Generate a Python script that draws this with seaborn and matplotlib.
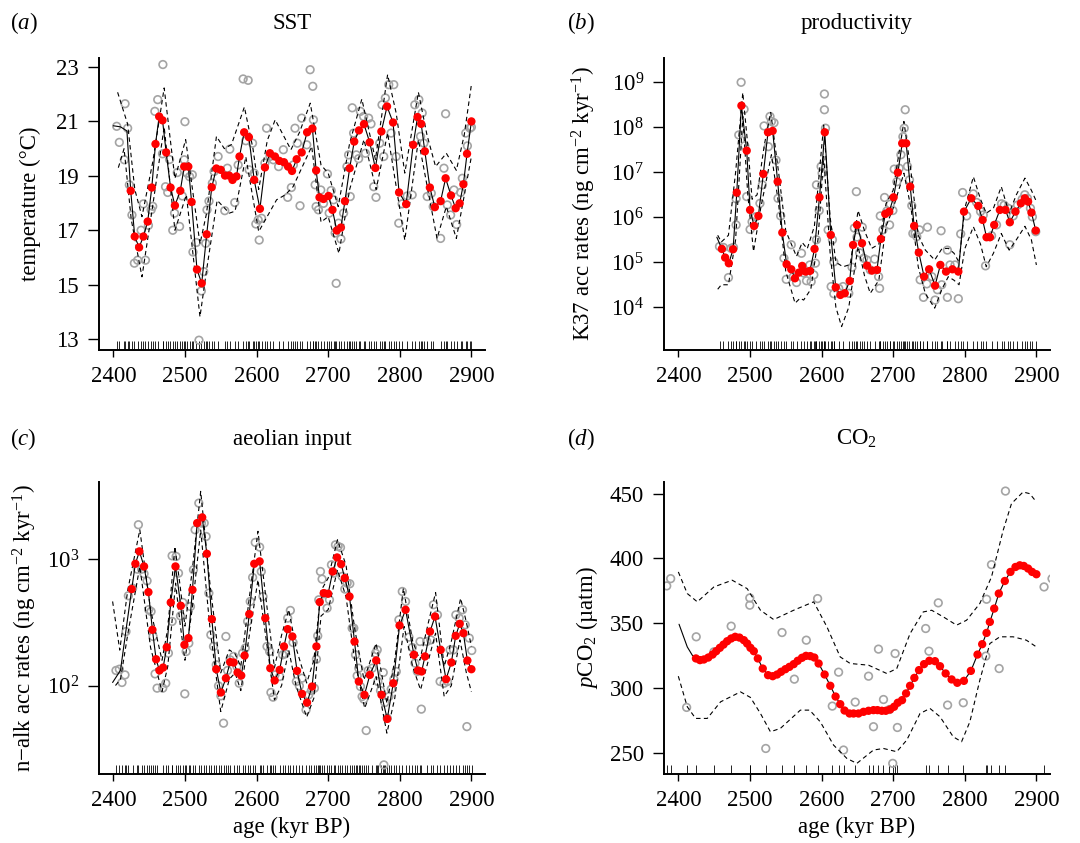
import numpy as np
import pandas as pd
import matplotlib
matplotlib.use("Agg")
import matplotlib.pyplot as plt
from matplotlib.ticker import NullLocator
import seaborn as sns

# ---------------- common ----------------
x_ticks = [2400, 2500, 2600, 2700, 2800, 2900]
x_tick_labels = ["2400", "2500", "2600", "2700", "2800", "2900"]

# ---------------- (a) SST ----------------
sst_grey_x = [2404.7, 2408.4, 2416.4, 2415.4, 2420, 2422.4, 2426, 2429.4, 2434, 2438.8,
              2442, 2444.9, 2449, 2452.8, 2455, 2458, 2462, 2469.2, 2468.7, 2472.9,
              2476, 2478.5, 2483, 2485.5, 2489.3, 2492.5, 2496.3, 2499, 2500, 2502.8,
              2506.5, 2510.3, 2511.2, 2515.9, 2519.6, 2522.9, 2526.2, 2529, 2530.8, 2533.6,
              2538.3, 2540.7, 2546.3, 2555.6, 2559.3, 2562.6, 2569.6, 2574.3, 2581.3, 2588.3,
              2585, 2589.7, 2594.4, 2596.7, 2599, 2602.3, 2603.7, 2607, 2611.7, 2614,
              2618.7, 2623.4, 2630.8, 2637.4, 2643.5, 2648.6, 2651.4, 2653.7, 2657, 2660.7,
              2663, 2670.1, 2674.8, 2678.5, 2679.4, 2681.8, 2683.2, 2686.4, 2689.7, 2693.5,
              2699, 2701.4, 2704.2, 2707.5, 2709.8, 2711.2, 2714.5, 2717.8, 2721.5, 2726.2,
              2728.5, 2730.8, 2733.6, 2735.5, 2739.3, 2742.5, 2745, 2749.5, 2752, 2756.5,
              2759.8, 2763.6, 2766.8, 2772, 2775.2, 2777.6, 2779.9, 2784.6, 2791.6, 2787.9,
              2794.9, 2798.6, 2803.3, 2810.3, 2817.3, 2821, 2826.6, 2829, 2831.3, 2833.6,
              2838.3, 2844, 2846.7, 2857, 2864, 2861.7, 2866.4, 2871, 2875.7, 2879.4,
              2885, 2887.4, 2892.1, 2894.4, 2898.1, 2900]
sst_grey_y = [20.82, 20.23, 21.65, 19.59, 20.75, 18.67, 17.56, 15.79, 15.9, 17.0,
              17.97, 15.9, 17.18, 17.75, 17.88, 21.37, 21.8, 23.09, 19.81, 18.6,
              18.39, 19.6, 17.0, 17.63, 19.12, 17.14, 18.26, 19.59, 20.99, 19.1,
              18.97, 19.04, 16.2, 16.55, 12.96, 14.77, 15.48, 16.52, 17.75, 18.07,
              18.73, 19.16, 19.71, 17.72, 19.28, 19.98, 18.02, 19.4, 22.56, 22.51,
              20.29, 19.22, 20.2, 19.1, 17.23, 17.38, 16.64, 17.44, 19.47, 20.75,
              19.71, 19.59, 19.34, 19.96, 18.21, 18.57, 19.4, 20.75, 20.2, 17.9,
              21.12, 20.14, 22.9, 22.29, 21.06, 18.67, 17.87, 17.75, 18.48, 17.99,
              19.07, 17.63, 18.46, 18.12, 16.9, 15.05, 17.26, 16.68, 17.63, 19.34,
              19.77, 18.24, 21.5, 20.57, 19.77, 19.63, 21.37, 21.18, 19.83, 21.12,
              20.91, 18.6, 18.21, 20.2, 21.61, 19.71, 21.86, 22.35, 22.35, 20.57,
              19.71, 17.26, 17.97, 18.26, 18.3, 21.61, 21.8, 20.45, 21.31, 20.2,
              18.24, 18.36, 17.87, 16.7, 21.28, 19.28, 17.93, 17.56, 18.48, 17.21,
              18.39, 18.91, 20.57, 20.1, 20.75, 20.79]
sst_red_x = [2424.3, 2429.9, 2436.0, 2442.0, 2448.0, 2453.7, 2458.9, 2464.0, 2468.7, 2473.8,
             2479.9, 2486.0, 2493.5, 2499.0, 2504.7, 2509.3, 2516.8, 2523.4, 2530.4, 2537.4,
             2543.9, 2550.0, 2556.0, 2561.7, 2566.4, 2572.0, 2576.2, 2582.7, 2589.3, 2596.7,
             2604.7, 2611.7, 2618.7, 2625.7, 2631.8, 2638.3, 2644.0, 2649.5, 2656.0, 2663.0,
             2670.6, 2678.0, 2683.2, 2687.9, 2693.5, 2700.5, 2706.0, 2712.0, 2717.8, 2723.4,
             2730.0, 2736.4, 2743.0, 2750.0, 2758.0, 2765.9, 2774.3, 2782.2, 2790.6, 2799.0,
             2808.9, 2818.7, 2824.8, 2829.9, 2835.0, 2842.0, 2849.0, 2857.0, 2864.0, 2871.5,
             2878.0, 2883.6, 2888.8, 2893.9, 2900.0]
sst_red_y = [18.45, 16.77, 16.37, 16.77, 17.32, 18.57, 20.17, 21.18, 21.04, 19.86,
             18.57, 17.91, 18.45, 19.34, 19.34, 18.04, 15.56, 15.05, 16.85, 18.58,
             19.27, 19.22, 19.01, 19.01, 18.85, 18.98, 19.71, 20.60, 20.42, 18.85,
             17.79, 19.31, 19.83, 19.71, 19.55, 19.50, 19.34, 19.18, 19.61, 19.86,
             20.60, 20.74, 19.20, 18.21, 18.15, 18.26, 17.75, 16.99, 17.10, 18.07,
             19.28, 20.26, 20.67, 20.90, 20.23, 19.29, 20.63, 21.55, 20.96, 18.39,
             17.96, 20.14, 21.16, 20.91, 19.90, 18.57, 17.85, 18.07, 18.91, 18.28,
             17.81, 17.99, 18.69, 19.81, 21.00]
sst_line_start_x = [2400, 2410, 2419]
sst_line_start_y = [20.84, 20.80, 20.65]
sst_up_x = [2406, 2420, 2430, 2440, 2455, 2471, 2486, 2501, 2521, 2530, 2544, 2555, 2565,
            2583, 2595, 2603, 2615, 2626, 2648, 2660, 2675, 2690, 2700, 2714, 2730, 2747,
            2766, 2783, 2795, 2807, 2826, 2838, 2850, 2865, 2879, 2890, 2900]
sst_up_y = [22.07, 20.9, 18.5, 17.5, 19.5, 22.23, 18.9, 20.33, 16.5, 17.6, 20.45, 20.0, 20.15,
            21.53, 20.0, 18.5, 20.3, 21.06, 19.96, 20.6, 21.67, 19.4, 19.1, 17.87, 20.2, 21.82,
            19.6, 22.72, 21.3, 19.1, 22.07, 20.5, 19.34, 19.83, 19.2, 20.5, 22.35]
sst_lo_x = [2407, 2415, 2425, 2440, 2455, 2471, 2486, 2502, 2521, 2530, 2545, 2562, 2570,
            2585, 2603, 2628, 2640, 2651, 2677, 2690, 2700, 2715, 2730, 2750, 2767, 2783,
            2807, 2826, 2852, 2865, 2879, 2900]
sst_lo_y = [19.3, 20.0, 17.4, 15.29, 17.9, 20.8, 17.0, 18.3, 13.82, 15.5, 18.1, 17.63, 17.7,
            19.7, 16.95, 18.12, 18.3, 18.6, 20.08, 17.3, 17.5, 16.15, 18.5, 20.33, 18.5, 20.57,
            16.64, 20.33, 16.7, 17.87, 16.7, 19.71]
sst_yticks = [13, 15, 17, 19, 21, 23]
sst_ytick_labels = ["13", "15", "17", "19", "21", "23"]

# ---------------- (b) productivity (log10 values) ----------------
k37_grey_x = [2457.5, 2463, 2470, 2473.7, 2477, 2480.7, 2480.7, 2484.4, 2487.7, 2491.8,
              2492.8, 2495.5, 2500.2, 2503, 2508, 2514, 2517.3, 2519.7, 2525.7, 2528,
              2530, 2533.6, 2536.4, 2539.2, 2542.9, 2547.5, 2550.7, 2557.7, 2560.5, 2565.1,
              2572, 2575.3, 2579, 2583.7, 2585.5, 2589.2, 2591.5, 2592.9, 2596.7, 2592.9,
              2599.4, 2600.8, 2604, 2604, 2605.5, 2609.2, 2615.2, 2617.1, 2613.4, 2617.1,
              2624, 2630, 2638, 2642.6, 2645.8, 2648.6, 2649.5, 2653.2, 2656.9, 2658.8,
              2663.4, 2668, 2674.1, 2679.7, 2681, 2682, 2685.7, 2688, 2691.3, 2695,
              2695.9, 2699.6, 2701.5, 2705.2, 2708.4, 2710.8, 2713.6, 2715.4, 2716.8, 2720,
              2722.8, 2726, 2727.5, 2730.7, 2733, 2736.8, 2737.7, 2742.3, 2747, 2747.9,
              2754, 2758.5, 2761.8, 2766.9, 2767.8, 2775.7, 2775.7, 2779.4, 2786.3, 2791,
              2794.3, 2797, 2802.6, 2811.9, 2816.5, 2822, 2825.8, 2829, 2837.4, 2844.3,
              2851.3, 2855, 2860.6, 2862.9, 2867.6, 2873.6, 2880.1, 2883.8, 2887.5, 2891.7,
              2894.4, 2899.1]
k37_grey_log = [5.35, 5.33, 4.66, 5.31, 5.33, 5.83, 6.41, 7.83, 9.0, 8.4,
                7.59, 6.46, 5.73, 5.9, 6.01, 6.31, 6.72, 8.03, 7.57, 8.24,
                8.13, 8.1, 7.27, 6.42, 6.03, 5.09, 4.62, 5.39, 4.68, 4.55,
                5.2, 4.76, 4.59, 4.94, 4.57, 4.72, 4.98, 5.5, 6.15, 6.72,
                7.13, 6.98, 8.74, 8.39, 7.98, 5.72, 5.5, 5.01, 4.46, 4.3,
                4.42, 4.46, 4.31, 4.89, 5.76, 6.57, 5.56, 5.21, 5.78, 5.09,
                5.05, 4.83, 5.07, 4.68, 4.42, 6.03, 5.72, 6.44, 6.14, 5.83,
                6.29, 6.15, 7.07, 6.79, 7.09, 7.39, 7.79, 7.98, 8.39, 7.13,
                6.83, 6.26, 5.64, 5.64, 5.57, 5.72, 4.61, 4.22, 4.52, 5.78,
                4.68, 4.16, 4.39, 5.7, 4.5, 5.27, 4.22, 4.94, 4.94, 4.19,
                5.63, 6.55, 6.03, 6.52, 6.33, 6.13, 6.05, 4.92, 5.59, 5.83,
                6.3, 6.27, 6.2, 5.39, 6.03, 6.27, 6.4, 6.5, 6.42, 6.2,
                6.01, 5.68]
k37_red_x = [2460.8, 2465.4, 2470.5, 2476.5, 2481.6, 2488.1, 2495.5, 2500.2, 2505.8, 2511.8,
             2518.7, 2525.2, 2531.7, 2538.7, 2545.2, 2551.2, 2557.7, 2562.8, 2568.4, 2573.0,
             2577.6, 2583.7, 2590.2, 2597.1, 2604.5, 2612.9, 2619.8, 2626.3, 2632.4, 2639.3,
             2644.0, 2649.5, 2656.5, 2663.5, 2670.4, 2677.4, 2682.9, 2689.0, 2694.5, 2700.6,
             2706.6, 2712.6, 2718.2, 2723.8, 2729.3, 2735.8, 2743.2, 2750.2, 2758.5, 2765.9,
             2773.8, 2782.7, 2791.0, 2798.9, 2809.1, 2818.8, 2824.9, 2830.4, 2835.1, 2841.1,
             2849.0, 2856.9, 2862.9, 2870.8, 2878.3, 2883.8, 2888.4, 2893.1, 2899.1]
k37_red_log = [5.296, 5.104, 4.978, 5.289, 6.548, 8.481, 7.481, 6.163, 5.807, 6.03,
               6.963, 7.889, 7.919, 6.793, 5.659, 4.956, 4.844, 4.644, 4.77, 4.919,
               4.793, 4.807, 5.296, 6.444, 7.889, 5.607, 4.444, 4.274, 4.311, 4.585,
               5.385, 5.83, 5.422, 4.926, 4.815, 4.83, 5.519, 6.074, 6.126, 6.444,
               6.993, 7.644, 7.644, 6.681, 5.807, 5.215, 4.681, 4.844, 4.481, 4.941,
               4.793, 4.844, 4.793, 6.126, 6.422, 6.252, 5.941, 5.556, 5.556, 5.83,
               6.163, 6.163, 5.889, 6.126, 6.311, 6.422, 6.348, 6.104, 5.704]
k37_line_start_x = [2453.8]
k37_line_start_log = [5.556]
k37_up_x = [2455, 2460, 2470, 2480, 2490, 2497, 2503, 2510, 2520, 2529, 2540, 2550, 2565,
            2573, 2580, 2590, 2603, 2612, 2620, 2630, 2640, 2651, 2660, 2670, 2680, 2690,
            2700, 2715, 2725, 2735, 2745, 2758, 2768, 2777, 2785, 2792, 2800, 2812, 2822,
            2830, 2840, 2851, 2862, 2872, 2884, 2893, 2900]
k37_up_log = [5.6, 5.45, 5.6, 7.0, 8.77, 7.6, 6.4, 6.5, 7.6, 8.33, 7.0, 5.7, 5.13,
              5.44, 5.3, 5.8, 8.05, 6.0, 5.0, 4.9, 4.95, 6.15, 5.7, 5.31, 5.4, 6.3,
              6.6, 8.13, 7.0, 5.6, 5.27, 5.05, 5.3, 5.31, 5.2, 5.0, 6.2, 6.9, 6.4,
              6.09, 6.2, 6.68, 6.09, 6.5, 6.87, 6.6, 6.35]
k37_lo_x = [2455, 2460, 2470, 2480, 2490, 2497, 2505, 2515, 2530, 2540, 2550, 2563, 2570,
            2575, 2585, 2595, 2603, 2612, 2620, 2628, 2638, 2651, 2660, 2668, 2680, 2690,
            2700, 2715, 2725, 2735, 2745, 2758, 2768, 2777, 2785, 2792, 2800, 2812, 2822,
            2830, 2840, 2851, 2862, 2872, 2884, 2893, 2900]
k37_lo_log = [4.4, 4.5, 4.5, 5.5, 8.24, 6.5, 5.24, 6.2, 7.39, 6.3, 4.8, 4.09, 4.2,
              4.16, 4.4, 5.5, 7.35, 5.2, 4.0, 3.57, 4.0, 5.35, 4.7, 4.31, 4.6, 5.8,
              6.2, 6.98, 6.2, 4.9, 4.3, 3.98, 4.4, 4.68, 4.6, 4.5, 5.3, 5.79, 5.4,
              4.9, 5.2, 5.64, 5.27, 5.5, 5.8, 5.5, 4.94]
k37_ytick_exp = [4, 5, 6, 7, 8, 9]
k37_ytick_labels = ["$10^{4}$", "$10^{5}$", "$10^{6}$", "$10^{7}$", "$10^{8}$", "$10^{9}$"]

# ---------------- (c) aeolian input (log10 values) ----------------
alk_grey_x = [2403.7, 2408.4, 2412.1, 2416.3, 2417.7, 2421, 2427, 2433.6, 2435, 2439.6,
              2442.9, 2447.1, 2449.4, 2452.7, 2455.5, 2458.3, 2461.1, 2469, 2473.2, 2476.9,
              2482.1, 2482.1, 2487.7, 2491, 2493.8, 2497, 2499.8, 2501.7, 2505.4, 2507.7,
              2511.9, 2514.2, 2519.4, 2523.1, 2526.9, 2529.6, 2533.4, 2536.2, 2539.9, 2543.7,
              2546.9, 2550.2, 2553.9, 2557.2, 2559.5, 2563.2, 2567.9, 2572.6, 2575.8, 2580.5,
              2584.2, 2587.5, 2591.2, 2594.5, 2598.2, 2604.3, 2606.6, 2609, 2614.6, 2618.3,
              2620.1, 2623, 2625.7, 2632.3, 2636.5, 2640.2, 2643.5, 2647.2, 2651, 2655.6,
              2659.8, 2663.5, 2669.1, 2672.8, 2676.6, 2680.8, 2683.6, 2685.4, 2686.9, 2689.2,
              2691.5, 2694.8, 2698.5, 2701.8, 2704.6, 2707.8, 2710.2, 2713.9, 2717.2, 2719.5,
              2723.2, 2726.5, 2730.2, 2733.5, 2735.8, 2738.2, 2740.5, 2742.8, 2745.1, 2747.4,
              2749.8, 2753.1, 2755.9, 2761.5, 2766.2, 2768.5, 2769.4, 2773.1, 2776.9, 2777.8,
              2779.2, 2782.5, 2784.8, 2788.1, 2791.8, 2795.1, 2798.8, 2803.5, 2808.1, 2812.8,
              2817.5, 2821.2, 2824.5, 2828.3, 2830.1, 2837.6, 2843.3, 2847, 2852.6, 2856.3,
              2861.9, 2866.6, 2870.3, 2875, 2878.3, 2883, 2887.6, 2891.4, 2893.7, 2897,
              2900.5]
alk_grey_log = [2.119, 2.129, 2.024, 2.084, 2.427, 2.71, 2.77, 2.92, 3.272, 2.92,
                2.884, 2.828, 2.6, 2.586, 2.388, 2.092, 1.979, 1.979, 2.018, 2.256,
                2.507, 3.026, 3.021, 2.889, 2.551, 2.657, 1.934, 2.269, 2.335, 2.625,
                2.916, 3.232, 3.443, 3.285, 3.285, 3.179, 2.731, 2.401, 2.309, 2.164,
                1.997, 1.918, 1.702, 2.388, 2.119, 2.203, 2.23, 2.15, 2.018, 2.256,
                2.296, 2.507, 2.665, 2.855, 3.132, 3.095, 2.902, 2.704, 2.309, 2.269,
                1.945, 1.908, 2.084, 2.071, 2.243, 2.251, 2.533, 2.594, 2.34, 2.032,
                1.997, 2.058, 1.807, 1.926, 1.96, 1.979, 2.208, 2.393, 2.678, 2.902,
                2.842, 2.726, 2.612, 2.678, 2.955, 2.889, 3.113, 3.1, 3.092, 2.863,
                2.763, 2.81, 2.805, 2.454, 2.454, 2.243, 2.077, 2.137, 1.992, 1.913,
                1.892, 1.644, 2.119, 2.137, 2.256, 2.282, 2.032, 1.96, 2.103, 1.372,
                1.865, 1.741, 1.913, 1.971, 2.05, 2.111, 2.52, 2.744, 2.665, 2.383,
                2.301, 2.177, 2.111, 2.348, 1.813, 2.348, 2.361, 2.639, 2.559, 2.032,
                2.018, 2.032, 2.282, 2.282, 2.559, 2.533, 2.599, 2.48, 1.675, 2.375,
                2.277]
alk_red_x = [2425.7, 2430.8, 2436.4, 2442.9, 2449.0, 2454.6, 2459.7, 2464.4, 2469.5, 2474.6,
             2480.2, 2486.8, 2494.2, 2499.3, 2504.9, 2510.5, 2517.1, 2524.1, 2530.6, 2537.6,
             2543.7, 2550.2, 2557.2, 2563.2, 2567.9, 2573.5, 2578.6, 2583.3, 2589.8, 2596.8,
             2604.3, 2612.2, 2619.2, 2625.3, 2632.3, 2638.3, 2643.5, 2650.0, 2656.5, 2663.5,
             2670.5, 2677.5, 2683.6, 2688.2, 2693.8, 2699.9, 2706.4, 2712.5, 2718.1, 2723.2,
             2729.8, 2736.8, 2742.8, 2750.7, 2758.2, 2767.1, 2774.5, 2782.5, 2790.9, 2799.7,
             2808.1, 2819.8, 2825.4, 2830.5, 2835.2, 2842.2, 2849.2, 2857.1, 2864.6, 2872.0,
             2878.1, 2883.7, 2888.8, 2894.4, 2900.0]
alk_red_log = [2.763, 2.963, 3.061, 2.942, 2.739, 2.441, 2.208, 2.119, 2.142, 2.303,
               2.657, 2.942, 2.631, 2.322, 2.375, 2.757, 3.285, 3.33, 3.042, 2.525,
               2.129, 1.945, 2.058, 2.185, 2.182, 2.103, 2.079, 2.237, 2.565, 2.963,
               2.982, 2.533, 2.137, 2.04, 2.124, 2.309, 2.446, 2.388, 2.116, 1.934,
               1.865, 1.992, 2.309, 2.66, 2.731, 2.726, 2.902, 3.013, 2.96, 2.85,
               2.704, 2.348, 2.032, 1.926, 2.084, 2.198, 1.926, 1.736, 2.018, 2.475,
               2.599, 2.243, 2.119, 2.111, 2.23, 2.427, 2.546, 2.282, 2.05, 2.182,
               2.393, 2.488, 2.414, 2.198, 2.129]
alk_line_start_x = [2399, 2410, 2418]
alk_line_start_log = [2.024, 2.12, 2.45]
alk_up_x = [2399, 2409, 2420, 2437, 2452, 2468, 2476, 2486, 2493, 2500, 2510, 2522, 2535,
            2550, 2562, 2570, 2578, 2590, 2602, 2615, 2625, 2635, 2645, 2655, 2670, 2680,
            2690, 2700, 2713, 2725, 2737, 2750, 2767, 2782, 2793, 2805, 2818, 2828, 2840,
            2850, 2862, 2872, 2885, 2893, 2900]
alk_up_log = [2.665, 2.28, 2.75, 3.232, 2.6, 2.2, 2.45, 3.1, 2.8, 2.47, 2.9, 3.536, 2.8,
              2.1, 2.282, 2.25, 2.15, 2.7, 3.22, 2.6, 2.14, 2.4, 2.6, 2.3, 2.02, 2.2,
              2.75, 2.85, 3.153, 2.95, 2.45, 2.045, 2.335, 1.86, 2.2, 2.77, 2.35, 2.2, 2.5,
              2.736, 2.15, 2.35, 2.69, 2.5, 2.31]
alk_lo_x = [2403, 2410, 2420, 2437, 2452, 2468, 2476, 2487, 2493, 2500, 2510, 2522, 2535,
            2550, 2562, 2570, 2578, 2590, 2602, 2615, 2625, 2635, 2645, 2655, 2670, 2680,
            2690, 2700, 2713, 2725, 2737, 2751, 2767, 2782, 2793, 2806, 2818, 2829, 2840,
            2850, 2862, 2872, 2884, 2893, 2900]
alk_lo_log = [2.0, 2.05, 2.4, 2.942, 2.3, 1.953, 2.15, 2.81, 2.5, 2.2, 2.6, 3.23, 2.45,
              1.794, 2.05, 2.1, 1.96, 2.4, 2.836, 2.3, 1.887, 2.0, 2.28, 2.0, 1.75, 1.9,
              2.55, 2.6, 2.916, 2.7, 2.2, 1.82, 2.07, 1.623, 1.9, 2.467, 2.15, 1.966, 2.2,
              2.414, 1.913, 2.0, 2.36, 2.1, 1.95]
alk_ytick_exp = [2, 3]
alk_ytick_labels = ["$10^{2}$", "$10^{3}$"]

# ---------------- (d) CO2 ----------------
co2_grey_x = [2383.8, 2389.3, 2411.6, 2425, 2449.7, 2473.8, 2499.8, 2499.8, 2522.1, 2544.8,
              2562, 2578.7, 2594.5, 2615, 2623.8, 2630.7, 2647, 2665.6, 2672.5, 2679.5,
              2686.5, 2694.8, 2699.4, 2702.7, 2705.9, 2745.4, 2750, 2763, 2776, 2797.9,
              2829.4, 2830.4, 2837.3, 2848, 2856.8, 2910.7, 2921.8]
co2_grey_y = [378.8, 384.4, 285, 339.5, 327.9, 347.7, 369.5, 363.9, 253.3, 342.8,
              306.8, 336.9, 369, 286, 312.2, 252.1, 289.1, 309.1, 270.1, 330,
              291.1, 283.4, 241.8, 326.6, 269.5, 345.9, 328.4, 365.7, 286.8, 288.6,
              324.6, 368.5, 395.2, 315, 452, 378, 384.4]
co2_red_x = [2424.6, 2430.2, 2435.7, 2441.8, 2447.8, 2452.9, 2458.0, 2463.1, 2468.2, 2473.8,
             2479.4, 2485.4, 2491.5, 2496.1, 2500.7, 2505.4, 2511.0, 2517.9, 2525.3, 2531.8,
             2537.9, 2543.5, 2549.5, 2555.1, 2561.1, 2566.7, 2572.7, 2578.3, 2584.3, 2589.9,
             2595.9, 2604.3, 2612.2, 2619.6, 2626.1, 2632.1, 2639.1, 2644.7, 2651.6, 2658.6,
             2665.6, 2672.5, 2678.1, 2684.1, 2689.7, 2695.7, 2701.3, 2706.4, 2712.4, 2718.0,
             2723.6, 2729.6, 2736.1, 2743.1, 2750.5, 2758.4, 2765.4, 2773.3, 2781.6, 2789.5,
             2798.8, 2808.5, 2817.8, 2824.3, 2830.4, 2835.0, 2841.1, 2847.5, 2855.9, 2863.8,
             2870.8, 2876.8, 2882.4, 2888.4, 2894.0, 2900.0]
co2_red_y = [322.8, 321.5, 322.0, 323.5, 325.8, 328.4, 331.0, 333.5, 336.1, 338.2,
             339.5, 338.9, 336.9, 334.3, 331.0, 328.4, 322.8, 315.0, 309.9, 309.1,
             310.4, 312.5, 314.5, 316.3, 318.4, 321.0, 323.3, 324.8, 324.6, 323.5,
             318.9, 310.4, 301.7, 293.4, 287.5, 282.6, 280.3, 280.3, 280.3, 281.6,
             282.4, 282.9, 282.9, 282.4, 282.4, 283.4, 285.5, 288.6, 290.6, 295.8,
             301.7, 307.8, 313.8, 318.4, 321.0, 320.7, 316.8, 311.2, 306.6, 304.0,
             305.5, 313.2, 325.8, 333.8, 342.5, 351.0, 361.3, 372.9, 382.6, 389.6,
             393.4, 394.7, 394.2, 392.2, 389.6, 387.8]
co2_line_start_x = [2401, 2412.5, 2419.5]
co2_line_start_y = [349.2, 331.7, 325.3]
co2_up_x = [2400, 2412.5, 2426.5, 2449.7, 2475.2, 2496.1, 2514.7, 2533.2, 2561, 2589,
            2607.5, 2626, 2640, 2665.6, 2691, 2705, 2723.6, 2742, 2753.8, 2770, 2788.6,
            2802.5, 2821, 2837.3, 2853.6, 2865.2, 2881.4, 2890.7, 2900]
co2_up_y = [389.6, 372.9, 366.5, 378, 383.2, 376.7, 360, 352.8, 360, 366.5,
            347.2, 324, 318.9, 317.6, 311.2, 315, 342, 358.7, 360, 354.9, 348.5,
            352.3, 365.2, 385.7, 421.7, 442.3, 451.3, 450, 443.6]
co2_lo_x = [2400, 2412.5, 2424.1, 2440.4, 2459, 2486.8, 2500.7, 2514.7, 2528.6, 2542.5,
            2570.4, 2583.4, 2598.2, 2616.8, 2635.4, 2649.3, 2672.5, 2686.5, 2705, 2719,
            2737.5, 2751.4, 2765.4, 2783.9, 2795.5, 2807.1, 2821, 2835, 2849, 2867.5,
            2886, 2900]
co2_lo_y = [309.1, 285.5, 276.5, 276.5, 289.3, 297, 292.7, 280.3, 266.2, 268.8,
            282.9, 282.9, 273.9, 255.9, 245.6, 241.8, 252.1, 253.3, 250.8, 259.8,
            280.3, 284.2, 277.8, 262.3, 258.5, 273.9, 306, 334.3, 339.5, 339.5,
            336.9, 331.7]
co2_yticks = [250, 300, 350, 400, 450]
co2_ytick_labels = ["250", "300", "350", "400", "450"]

# ---------------- style ----------------
sns.set_style("ticks")
plt.rcParams['font.family'] = ['Liberation Serif', 'DejaVu Serif']
plt.rcParams['mathtext.fontset'] = 'custom'
plt.rcParams['mathtext.rm'] = 'Liberation Serif'
plt.rcParams['mathtext.it'] = 'Liberation Serif:italic'
plt.rcParams['mathtext.bf'] = 'Liberation Serif:bold'
plt.rcParams['axes.unicode_minus'] = True
plt.rcParams['text.color'] = 'black'
plt.rcParams['axes.labelcolor'] = 'black'
plt.rcParams['xtick.color'] = 'black'
plt.rcParams['ytick.color'] = 'black'

GREY = '#a4a4a4'
RED = '#ff0000'
TICK_FS = 16.5
LABEL_FS = 16.5

fig = plt.figure(figsize=(10.8, 8.43), dpi=100)
W, H = 1080.0, 843.0


def add_axes(left, top, right, bottom):
    return fig.add_axes([left / W, 1 - bottom / H, (right - left) / W, (bottom - top) / H])


def draw_panel(ax, gx, gy, upx, upy, lox, loy, lx, ly, rx, ry, rug, log):
    if log:
        ax.set_yscale('log')
    sns.scatterplot(x=gx, y=gy, ax=ax, marker='o', s=30, facecolors='none',
                    edgecolor=GREY, linewidth=1.2, zorder=2)
    sns.lineplot(x=upx, y=upy, ax=ax, sort=False, estimator=None, errorbar=None,
                 color='black', linewidth=0.8, linestyle=(0, (4, 3)), zorder=3)
    sns.lineplot(x=lox, y=loy, ax=ax, sort=False, estimator=None, errorbar=None,
                 color='black', linewidth=0.8, linestyle=(0, (4, 3)), zorder=3)
    sns.lineplot(x=lx, y=ly, ax=ax, sort=False, estimator=None, errorbar=None,
                 color='black', linewidth=0.8, zorder=3)
    sns.scatterplot(x=rx, y=ry, ax=ax, marker='o', s=36, color=RED,
                    edgecolor='none', linewidth=0, zorder=4)
    sns.rugplot(x=rug, ax=ax, height=0.03, color='black', linewidth=0.6,
                expand_margins=False, zorder=1)
    ax.set_xlim(2380, 2919)
    ax.set_xticks(x_ticks)
    ax.set_xticklabels(x_tick_labels)
    ax.tick_params(axis='x', direction='out', length=5, width=1.0,
                   labelsize=TICK_FS, pad=6.5)
    ax.tick_params(axis='y', direction='out', length=8, width=1.0,
                   labelsize=TICK_FS, pad=6.5)
    for s in ['left', 'bottom']:
        ax.spines[s].set_linewidth(1.4)
        ax.spines[s].set_color('black')
    sns.despine(ax=ax)
    ax.set_xlabel('')
    ax.set_ylabel('')


# (a)
ax_a = add_axes(99, 58, 485, 350)
draw_panel(ax_a, sst_grey_x, sst_grey_y, sst_up_x, sst_up_y, sst_lo_x, sst_lo_y,
           sst_line_start_x + sst_red_x, sst_line_start_y + sst_red_y,
           sst_red_x, sst_red_y, sst_grey_x, log=False)
ax_a.set_ylim(12.6, 23.33)
ax_a.set_yticks(sst_yticks)
ax_a.set_yticklabels(sst_ytick_labels)
ax_a.set_ylabel('temperature (°C)', fontsize=LABEL_FS)
ax_a.yaxis.set_label_coords(-0.150, 0.5)
ax_a.set_title('SST', fontsize=LABEL_FS, pad=21)

# (b)
p10 = lambda v: [10.0 ** e for e in v]
ax_b = add_axes(664, 58, 1050, 350)
draw_panel(ax_b, k37_grey_x, p10(k37_grey_log), k37_up_x, p10(k37_up_log),
           k37_lo_x, p10(k37_lo_log),
           k37_line_start_x + k37_red_x, p10(k37_line_start_log + k37_red_log),
           k37_red_x, p10(k37_red_log), k37_grey_x, log=True)
ax_b.set_ylim(10 ** 3.05, 10 ** 9.54)
ax_b.set_yticks(p10(k37_ytick_exp))
ax_b.set_yticklabels(k37_ytick_labels)
ax_b.yaxis.set_minor_locator(NullLocator())
ax_b.set_ylabel('K37 acc rates (ng cm$^{-2}$ kyr$^{-1}$)', fontsize=LABEL_FS)
ax_b.yaxis.set_label_coords(-0.171, 0.5)
ax_b.set_title('productivity', fontsize=LABEL_FS, pad=21)

# (c)
ax_c = add_axes(99, 482, 485, 774)
draw_panel(ax_c, alk_grey_x, p10(alk_grey_log), alk_up_x, p10(alk_up_log),
           alk_lo_x, p10(alk_lo_log),
           alk_line_start_x + alk_red_x, p10(alk_line_start_log + alk_red_log),
           alk_red_x, p10(alk_red_log), alk_grey_x, log=True)
ax_c.set_ylim(10 ** 1.30, 10 ** 3.61)
ax_c.set_yticks(p10(alk_ytick_exp))
ax_c.set_yticklabels(alk_ytick_labels)
ax_c.yaxis.set_minor_locator(NullLocator())
ax_c.set_ylabel('n\u2212alk acc rates (ng cm$^{-2}$ kyr$^{-1}$)', fontsize=LABEL_FS)
ax_c.yaxis.set_label_coords(-0.155, 0.5)
ax_c.set_title('aeolian input', fontsize=LABEL_FS, pad=27)
ax_c.set_xlabel('age (kyr BP)', fontsize=LABEL_FS, va='top')
ax_c.xaxis.set_label_coords(0.5, -0.145)

# (d)
ax_d = add_axes(664, 482, 1050, 774)
draw_panel(ax_d, co2_grey_x, co2_grey_y, co2_up_x, co2_up_y, co2_lo_x, co2_lo_y,
           co2_line_start_x + co2_red_x, co2_line_start_y + co2_red_y,
           co2_red_x, co2_red_y, co2_grey_x, log=False)
ax_d.set_ylim(233.6, 459)
ax_d.set_yticks(co2_yticks)
ax_d.set_yticklabels(co2_ytick_labels)
ax_d.set_ylabel('$p$CO$_2$ (µatm)', fontsize=LABEL_FS)
ax_d.yaxis.set_label_coords(-0.166, 0.5)
ax_d.set_title('CO$_2$', fontsize=LABEL_FS, pad=27)
ax_d.set_xlabel('age (kyr BP)', fontsize=LABEL_FS, va='top')
ax_d.xaxis.set_label_coords(0.5, -0.145)

# panel letters
for lab, px, py in [('($a$)', 10, 29), ('($b$)', 567, 29), ('($c$)', 10, 445), ('($d$)', 567, 445)]:
    fig.text(px / W, 1 - py / H, lab, fontsize=LABEL_FS, ha='left', va='baseline')

fig.savefig('out.png', dpi=100)
